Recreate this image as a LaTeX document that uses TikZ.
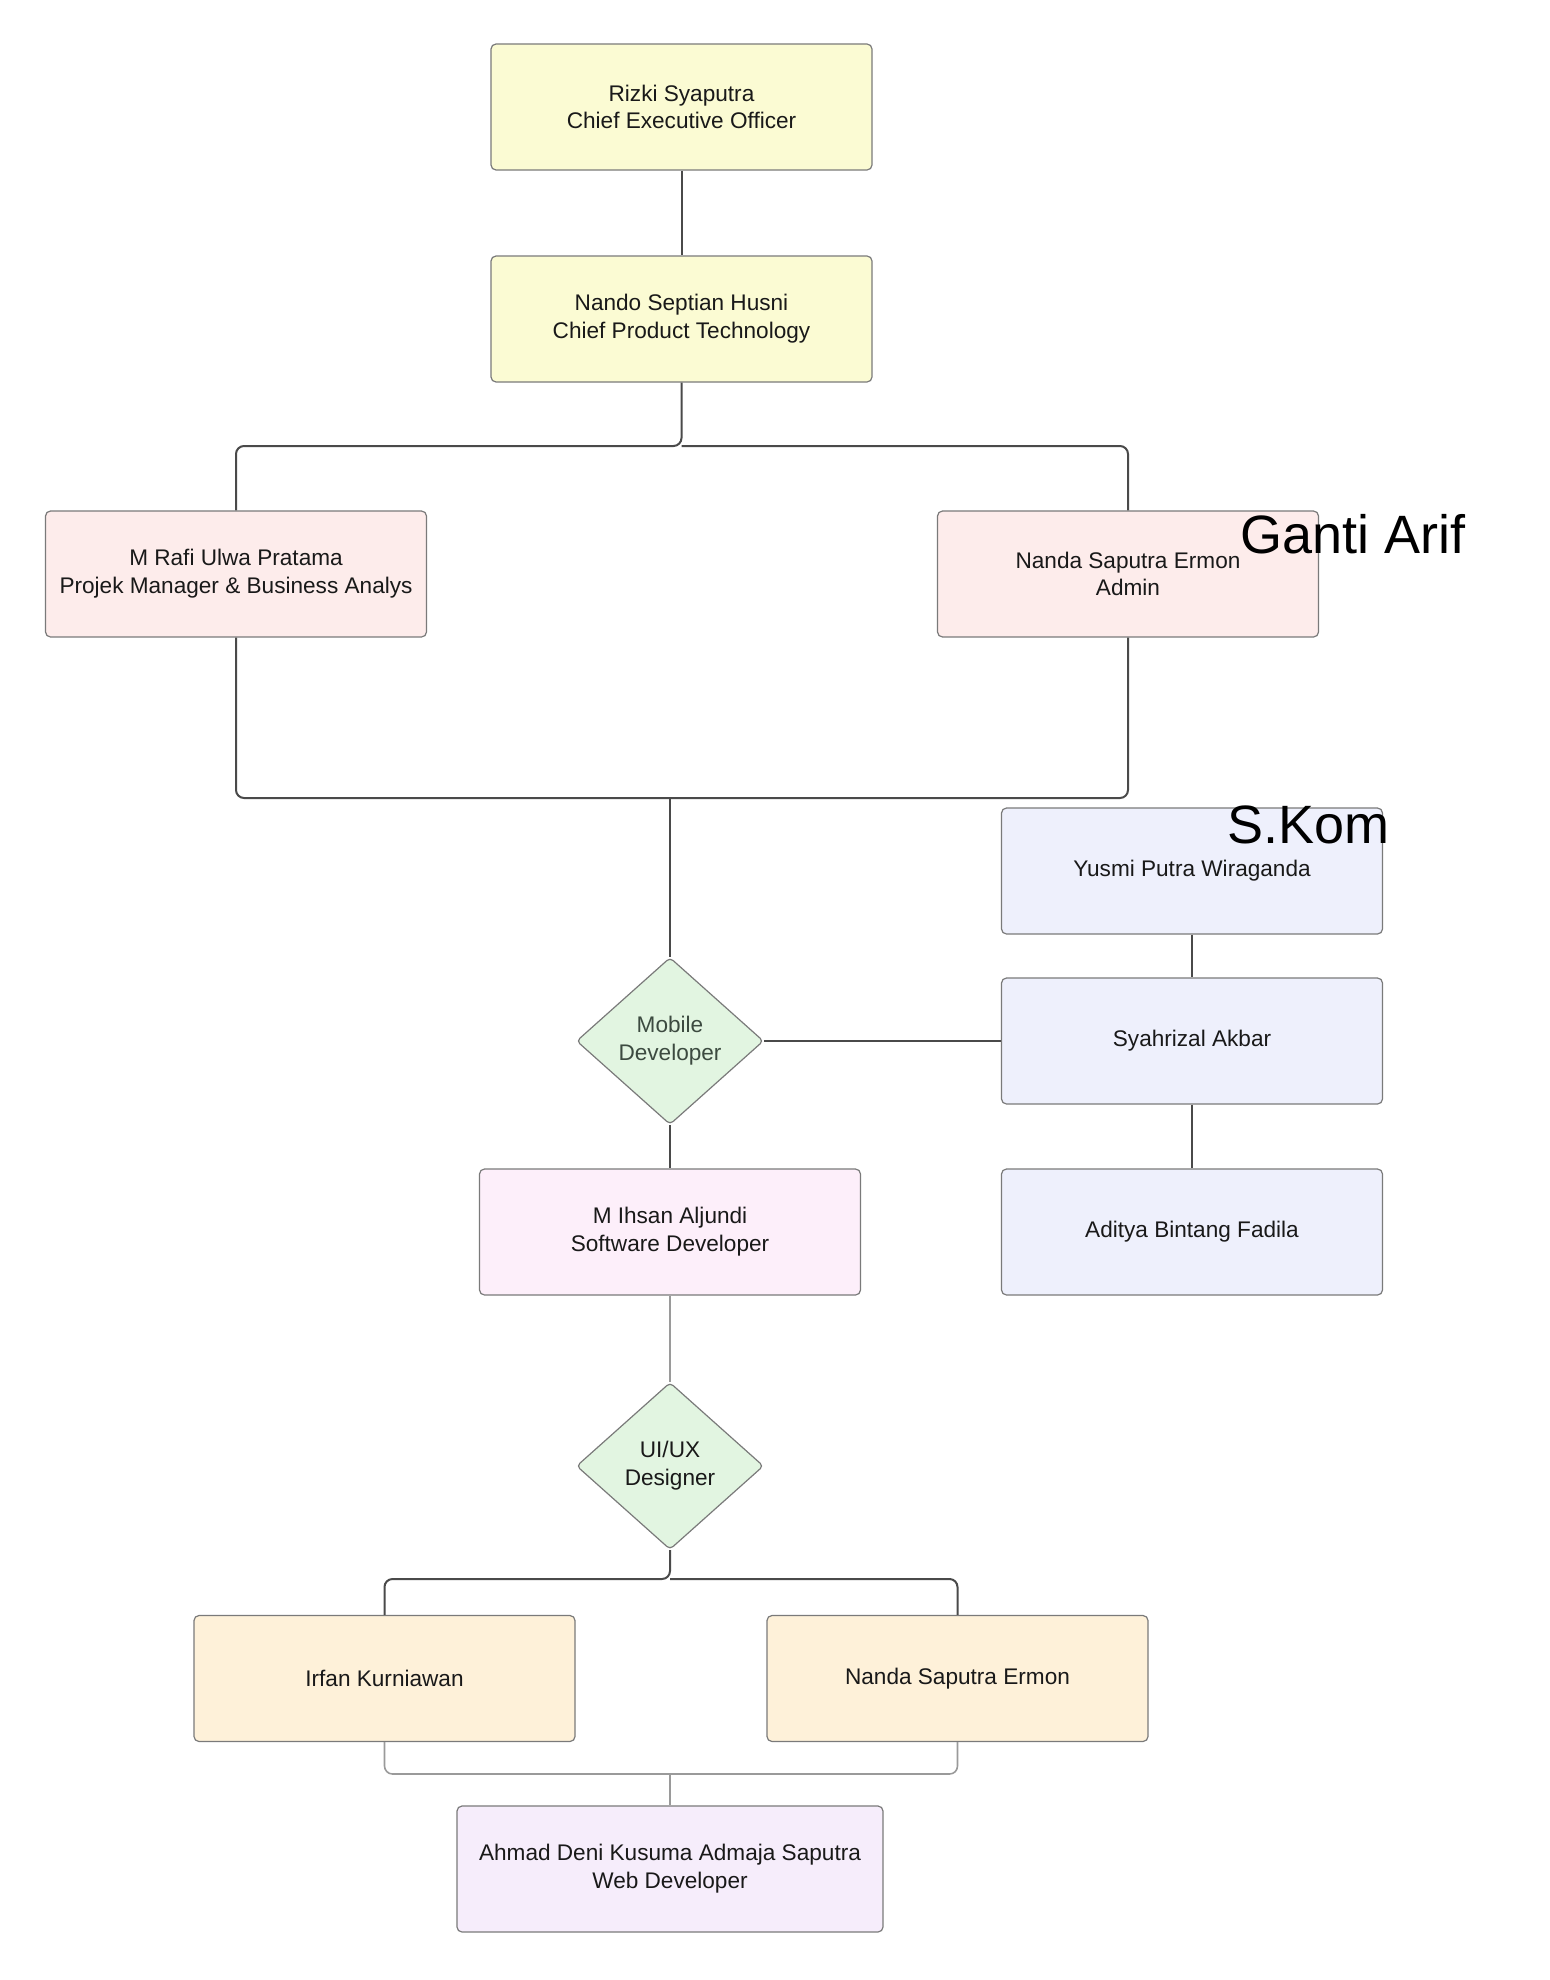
\documentclass[tikz,border=0pt]{standalone}
\usepackage{fontspec}
\setmainfont{Liberation Sans}
\usetikzlibrary{shapes.geometric}
\definecolor{bordc}{HTML}{7A7A7A}
\definecolor{linec}{HTML}{4A4A4A}
\definecolor{lightlinec}{HTML}{9A9A9A}
\definecolor{yel}{HTML}{FBFBD3}
\definecolor{pnk}{HTML}{FDECEB}
\definecolor{lav}{HTML}{EEF0FC}
\definecolor{grn}{HTML}{E2F5E1}
\definecolor{mag}{HTML}{FDEFFA}
\definecolor{org}{HTML}{FEF1D9}
\definecolor{vio}{HTML}{F6EDFB}
\definecolor{dtxt}{HTML}{3C4A40}
\tikzset{
  box/.style={draw=bordc, line width=0.6pt, rounded corners=2.5pt, minimum width=190.5pt, minimum height=63pt, inner sep=0pt, align=center, font=\fontsize{11.3}{13.9}\selectfont, text=black!90},
  dia/.style={diamond, draw=bordc, line width=0.6pt, fill=grn, minimum width=93.5pt, minimum height=83.5pt, inner sep=0pt, align=center, font=\fontsize{11.3}{13.9}\selectfont, rounded corners=2pt},
  conn/.style={draw=linec, line width=1pt, rounded corners=4pt},
  lconn/.style={draw=lightlinec, line width=0.8pt, rounded corners=4pt},
  big/.style={font=\fontsize{27}{32}\selectfont, inner sep=0pt, anchor=base west, text=black}
}
\begin{document}
\begin{tikzpicture}[x=0.5pt, y=-0.5pt]
\useasboundingbox (0,0) rectangle (1549,1980);
\node[box, fill=yel] (ceo) at (681.5,107) {Rizki Syaputra\\Chief Executive Officer};
\node[box, fill=yel] (cpt) at (681.5,319) {Nando Septian Husni\\Chief Product Technology};
\node[box, fill=pnk] (rafi) at (236,574) {M Rafi Ulwa Pratama\\Projek Manager \& Business Analys};
\node[box, fill=pnk] (admin) at (1128,574) {Nanda Saputra Ermon\\Admin};
\node[box, fill=lav] (yusmi) at (1192,871) {Yusmi Putra Wiraganda};
\node[box, fill=lav] (syah) at (1192,1041) {Syahrizal Akbar};
\node[box, fill=lav] (adit) at (1192,1232) {Aditya Bintang Fadila};
\node[dia, text=dtxt] (mob) at (670,1041) {Mobile\\Developer};
\node[box, fill=mag] (ihsan) at (670,1232) {M Ihsan Aljundi\\Software Developer};
\node[dia, text=black!90] (uiux) at (670,1466) {UI/UX\\Designer};
\node[box, fill=org] (irfan) at (384.5,1678.5) {Irfan Kurniawan};
\node[box, fill=org] (nanda2) at (957.5,1678.5) {Nanda Saputra Ermon};
\node[box, fill=vio, minimum width=213pt] (ahmad) at (670,1869) {Ahmad Deni Kusuma Admaja Saputra\\Web Developer};

\coordinate (b1) at (681.5,446);
\coordinate (j1) at (670,798);
\coordinate (b2) at (670,1579);
\coordinate (j2) at (670,1774);

\draw[conn] (ceo) -- (cpt);
\draw[conn] (cpt.south) -- (b1) -| (rafi.north);
\draw[conn] (b1) -| (admin.north);
\draw[conn] (rafi.south) |- (j1);
\draw[conn] (admin.south) |- (j1);
\draw[conn] (j1) -- (mob.north);
\draw[conn] (mob.east) -- (syah.west);
\draw[conn] (yusmi) -- (syah);
\draw[conn] (syah) -- (adit);
\draw[conn] (mob.south) -- (ihsan.north);
\draw[lconn] (ihsan.south) -- (uiux.north);
\draw[conn] (uiux.south) -- (b2) -| (irfan.north);
\draw[conn] (b2) -| (nanda2.north);
\draw[lconn] (irfan.south) |- (j2);
\draw[lconn] (nanda2.south) |- (j2);
\draw[lconn] (j2) -- (ahmad.north);

\node[big] (ganti) at (1240,553) {Ganti Arif};
\node[big] (skom) at (1227,843) {S.Kom};
\end{tikzpicture}
\end{document}
